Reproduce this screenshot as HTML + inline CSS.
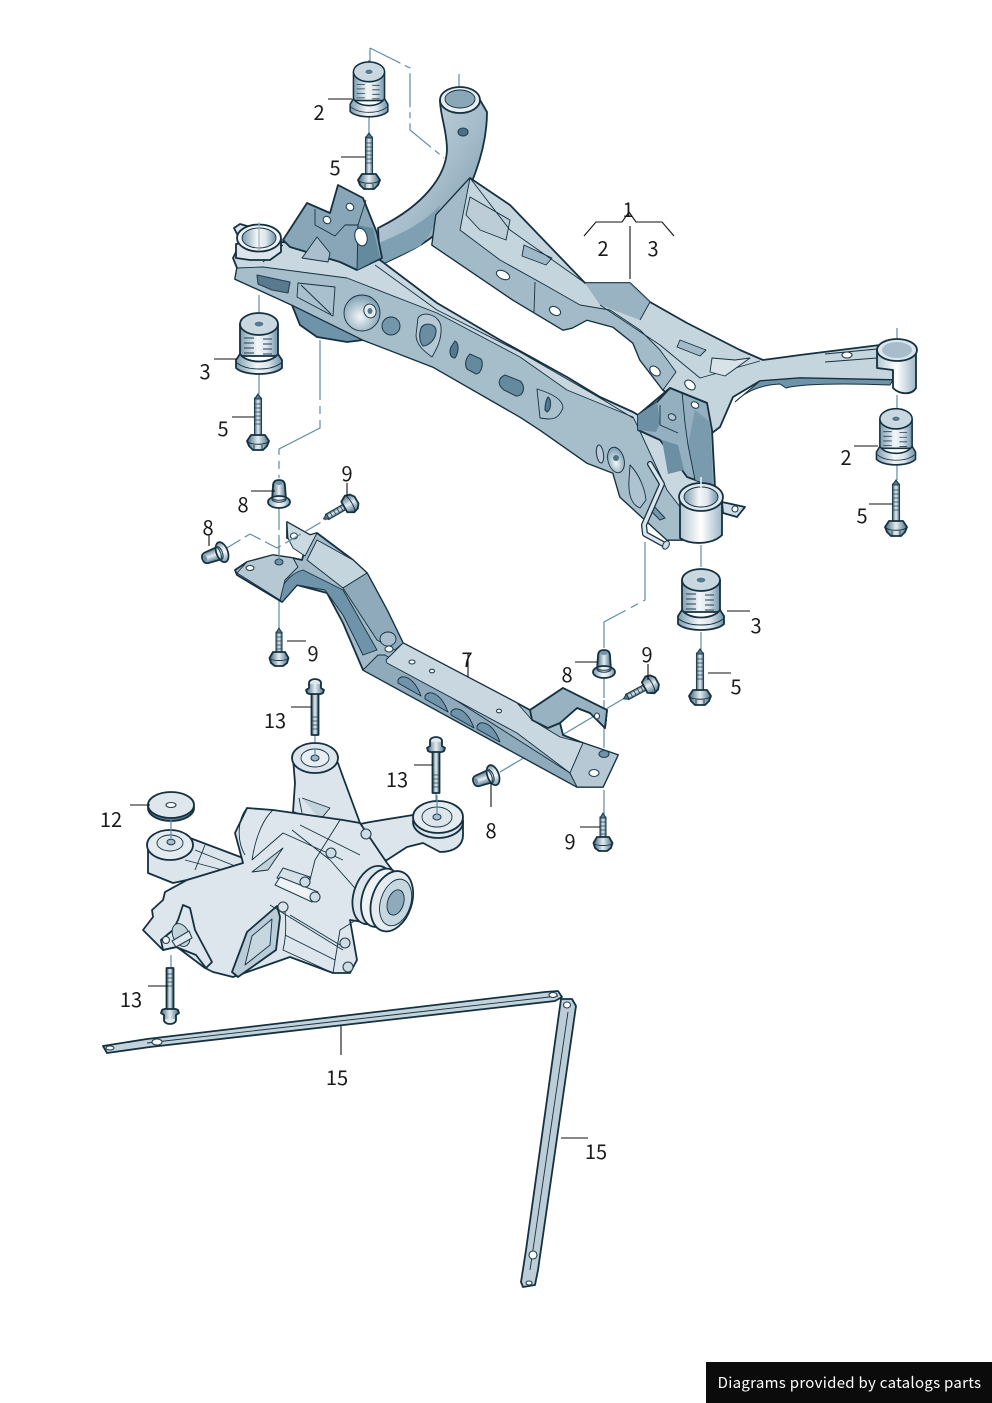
<!DOCTYPE html>
<html><head><meta charset="utf-8"><style>
html,body{margin:0;padding:0;background:#fff}
svg{display:block}
text{font-family:"Noto Sans CJK JP","Liberation Sans",sans-serif;font-size:20px;fill:#1a1a1a;text-anchor:middle}
.o{stroke:#15303f;stroke-width:1.8;stroke-linejoin:round;stroke-linecap:round}
.t{stroke:#15303f;stroke-width:.9;stroke-linejoin:round}
.d{stroke:#5f8ca5;stroke-width:1.2;fill:none}
.l{stroke:#111;stroke-width:1.1;fill:none}
.o2{stroke:#24404f;stroke-width:1.1;stroke-linejoin:round}
</style></head><body>
<svg width="992" height="1403" viewBox="0 0 992 1403" fill="none" xmlns="http://www.w3.org/2000/svg">
<defs>
<linearGradient id="cy"><stop offset="0" stop-color="#7c9cb0"/><stop offset=".45" stop-color="#f4f7f9"/><stop offset=".7" stop-color="#dce6ec"/><stop offset="1" stop-color="#6f92a7"/></linearGradient>
<linearGradient id="cw"><stop offset="0" stop-color="#b5c8d4"/><stop offset=".5" stop-color="#fff"/><stop offset="1" stop-color="#9fb7c6"/></linearGradient>
<linearGradient id="bd"><stop offset="0" stop-color="#42667b"/><stop offset=".5" stop-color="#e5edf1"/><stop offset="1" stop-color="#4b6f84"/></linearGradient>
<linearGradient id="tb" x1="0" y1="0" x2="1" y2="1"><stop offset="0" stop-color="#d3e0e7"/><stop offset=".55" stop-color="#a3bac8"/><stop offset="1" stop-color="#6f93a8"/></linearGradient>
<radialGradient id="sp" cx=".45" cy=".6" r=".6"><stop offset="0" stop-color="#f3f7f9"/><stop offset="1" stop-color="#7d9db1"/></radialGradient>
<g id="bolt"><rect x="-3.5" y="0" width="7" height="38" fill="url(#bd)" class="o2"/><path d="M0-4L3.5 1H-3.5Z" fill="#54788d" class="o2"/><path d="M-3.5 6h7M-3.5 10h7M-3.5 14h7M-3.5 18h7M-3.5 22h7M-3.5 26h7" stroke="#24404f" stroke-width=".8"/><path d="M-11 43L-7 37H7L11 43L9 48L5 52H-5L-9 48Z" fill="url(#bd)" class="o"/><path d="M-10 44C-6 47 6 47 10 44M-4 47V52M4 47V52" class="t"/></g>
<g id="b9"><rect x="-3" y="0" width="6" height="21" fill="url(#bd)" class="o2"/><path d="M0-4L3 1H-3Z" fill="#54788d" class="o2"/><path d="M-3 5h6M-3 9h6M-3 13h6M-3 17h6" stroke="#24404f" stroke-width=".8"/><path d="M-9.500 26L-6 20H6L9.500 26L8 31L4 34H-4L-8 31Z" fill="url(#bd)" class="o"/><path d="M-9 27C-5 29 5 29 9 27" class="t"/></g>
<g id="b13"><ellipse cx="0" cy="2" rx="6" ry="4" fill="#dfe8ed" class="o"/><path d="M-6 3v4l-3 2 1 3c3 2 13 2 16 0l1-3-3-2V3" fill="url(#bd)" class="o"/><rect x="-3.5" y="13" width="7" height="41" fill="url(#bd)" class="o"/><path d="M-3.5 36h7M-3.5 40h7M-3.5 44h7M-3.5 48h7" stroke="#24404f" stroke-width=".8"/></g>
<g id="b8"><path d="M-6 2C-6-3-3-4 0-4S6-3 6 2L7 16H-7Z" fill="url(#bd)" class="o"/><ellipse cx="0" cy="-1" rx="3.500" ry="2" fill="#6f93a8"/><ellipse cx="0" cy="18" rx="11" ry="6" fill="url(#cy)" class="o"/><path d="M-7 14c3 3 11 3 14 0v2c-3 3-11 3-14 0Z" fill="url(#bd)" class="o2"/></g>
<g id="bsh"><path d="M-19 2V34H19V2Z" fill="url(#cy)" class="o"/><path d="M-19 32L-23 38V46C-15 54 15 54 23 46V38L19 32C12 42-12 42-19 32Z" fill="url(#cy)" class="o"/><path d="M-22 41C-12 49 12 49 22 41" class="t"/><ellipse cx="0" cy="2" rx="19" ry="11" fill="#c9d8e0" class="o"/><ellipse cx="0" cy="2" rx="5" ry="3" fill="#567b91" stroke="#dde7ec"/><path d="M-15 16h10M-15 21h10M-15 26h10M-15 31h10M4 17h9M4 22h9M4 27h9M4 32h9" stroke="#24404f" stroke-width=".9"/></g>
</defs>
<rect width="992" height="1403" fill="#fff"/>

<!-- dashed / assembly lines -->
<path class="d" stroke-dasharray="34 5 6 5" d="M370 48V62M370 48L410 68V130L444 158"/>
<path class="d" d="M369 112V134M459 74V100M259 295V314M259 372V394M897 328V350M897 395V408M897 462V480M701 545V567M701 632V650M369 60V78"/>
<path class="d" stroke-dasharray="60 6 8 6" d="M320 340V428L279 449V478"/>
<path class="d" stroke-dasharray="24 5 6 5" d="M279 506V560"/>
<path class="d" d="M279 600V630M604 790V815M604 700V748"/>
<path class="d" stroke-dasharray="60 6 8 6" d="M645 542V600L604 622V648"/>
<path class="d" d="M604 678V698M500 772L628 696M315 735V750M436 793V812M171 830V846M171 955V968"/>

<!-- far tube -->
<path class="o" fill="url(#tb)" d="M440 100C440 115 447 130 447 150C446 175 425 205 378 228L380 265C420 247 432 240 450 220C470 195 487 150 487 112L480 100Z"/>
<path fill="#7f9fb3" d="M379 243C405 232 425 222 440 205C436 222 432 235 420 246L380 265Z"/>
<ellipse cx="460" cy="100" rx="20" ry="13" fill="#e8eff3" class="o"/><ellipse cx="460" cy="99" rx="15" ry="9" fill="#8aa7b8" class="t"/>
<ellipse cx="463" cy="132" rx="5" ry="4" fill="#4d7287" class="o2"/>

<!-- far rail + right arm -->
<path class="o" fill="#c5d5de" d="M470 178L510 205L585 283L630 283L650 302L687 323L740 350L763 360L800 355L880 345L893 368L893 380L800 378L760 381L733 397L720 427L712 433L663 390L640 360L633 343L613 327L587 320L572 328L563 330L513 300L432 245L436 215Z"/>
<path fill="#a3bac8" class="t" d="M470 178L436 215L432 245L513 300L563 330L572 328L587 320L613 327L633 343L640 360L663 390L676 372L660 350L640 330L610 310L580 305L545 285L500 260L460 230Z"/>
<path fill="#8eaabb" d="M585 283L630 283L650 302L640 320L600 305Z" opacity=".8"/>
<path class="t" d="M470 197L510 220L506 240L480 230L466 215Z" fill="#bccdd7"/>
<path class="t" d="M524 245L552 258L546 265L522 256Z" fill="#9fb7c6"/>
<path class="t" d="M470 178L510 230L585 283M600 305L660 345L700 378L760 361M535 282L534 312M650 302L640 320"/>
<path class="t" fill="#a3bac8" d="M680 340L706 350L700 356L677 347Z"/>
<path class="t" fill="#d8e3e9" d="M712 358L735 360L750 358L725 376L710 372Z"/>
<ellipse cx="503" cy="275" rx="7" ry="4" fill="#fff" class="o2" transform="rotate(25 503 275)"/>
<ellipse cx="555" cy="311" rx="6" ry="4" fill="#fff" class="o2" transform="rotate(30 555 311)"/>
<ellipse cx="655" cy="371" rx="6" ry="4" fill="#fff" class="o2" transform="rotate(40 655 371)"/>
<ellipse cx="690" cy="385" rx="6" ry="4" fill="#fff" class="o2" transform="rotate(40 690 385)"/>
<path fill="#6f93a8" stroke="#15303f" d="M760 381L800 378L893 380L890 385C840 383 800 384 786 388L780 384C760 385 745 392 735 402Z"/>
<path class="t" d="M825 354L877 349M825 362L877 358"/>
<ellipse cx="847" cy="355" rx="5" ry="3" fill="#fff" class="o2"/>
<!-- right cup -->
<path class="o" fill="url(#cw)" d="M877 350V368L893 370V388C900 395 912 395 916 388V350Z"/>
<ellipse cx="897" cy="350" rx="20" ry="11" fill="#dbe5eb" class="o"/>
<ellipse cx="897" cy="350" rx="15" ry="8" fill="#a7bdcb"/>

<!-- front rail -->
<path class="o" fill="#6f93a8" d="M292 305L300 325L317 337L347 342L363 340L330 320Z"/>
<path class="o" fill="#c9d8e0" d="M233 258L237 268L235 279L292 305L363 340L433 367L520 417L540 430L587 463L613 473L620 497L667 540L683 540L712 487L707 403L670 388L638 415L633 412L600 397L567 377L500 340L437 303L380 260L283 242L238 248Z"/>
<path class="t" fill="#a6bdca" d="M237 268L263 267L347 278L437 313L520 357L567 390L633 417L638 427L667 490L680 507L683 540L667 540L620 497L613 473L587 463L540 430L520 417L433 367L363 340L292 305L235 279Z"/>
<path class="t" d="M283 245L263 262M375 265L437 310L520 352L600 398L633 418"/>
<path fill="#59798e" class="o2" d="M257 275L290 282L288 293L272 290L258 284Z"/>
<path fill="#a9c0cd" class="t" d="M298 283L335 287L333 316L297 297Z"/><path class="t" d="M301 285L331 314"/>
<circle cx="362" cy="313" r="18" fill="url(#sp)" class="t"/>
<ellipse cx="370" cy="311" rx="6" ry="7" fill="#e6edf1" class="t" transform="rotate(-20 370 311)"/><ellipse cx="370" cy="311" rx="2.500" ry="3" fill="#54788d"/>
<circle cx="391" cy="326" r="9" fill="#7496aa" class="t"/>
<path fill="#b5c8d4" class="t" d="M418 318C423 310 440 315 441 327C442 340 436 350 432 357C425 352 416 345 416 335Z"/>
<path fill="#6a8da2" class="o2" d="M421 328C424 322 436 323 436 331C436 340 428 346 423 346C419 342 419 334 421 328Z"/>
<path fill="#54788d" class="o2" d="M455 341C459 343 459 352 455 358C450 358 449 352 451 347Z"/>
<path fill="#648a9e" class="o2" d="M470 354L481 359C484 364 481 374 476 374L467 369C464 364 466 358 470 354Z"/>
<path fill="#648a9e" class="o2" d="M505 375L520 381C526 385 524 397 516 396L504 390C497 385 498 378 505 375Z"/>
<path fill="#a9c0cd" class="t" d="M537 389C547 392 563 398 563 408C558 420 552 420 540 418Z"/>
<path fill="#54788d" class="o2" d="M548 397C552 400 551 410 547 412L545 410C545 405 546 400 548 397Z"/>
<ellipse cx="600" cy="454" rx="3.500" ry="9" fill="#bccdd7" class="o2" transform="rotate(-8 600 454)"/>
<ellipse cx="616" cy="460" rx="8" ry="13" fill="url(#sp)" class="t" transform="rotate(-15 616 460)"/>
<circle cx="616" cy="458" r="3" fill="#4d7287"/>
<path fill="#aec3cf" class="t" d="M630 465C640 475 645 490 646 500L640 508C632 505 628 495 629 480Z"/>
<path fill="#7496aa" class="o2" d="M653 505L665 518L660 520L652 512Z"/>

<!-- left cup -->
<path class="o" fill="#dce6ec" d="M236 244V258L250 260H270L281 252V238Z"/>
<path class="o" fill="#dbe5eb" d="M234 228L240 224 247 226 258 226V236L240 240Z"/>
<ellipse cx="259" cy="238" rx="22" ry="13.500" fill="#f0f4f6" class="o"/>
<ellipse cx="259" cy="238" rx="17" ry="10" fill="url(#cy)" class="t"/>
<path stroke="#9fb7c6" stroke-width="1.200" d="M259 222V250"/>

<!-- left bracket -->
<path class="o" fill="#88a6b8" d="M283 240L307 203L330 213L338 185L363 198L377 233L382 258L357 270L340 262L290 247Z"/>
<path fill="#648a9e" d="M357 225L373 228L380 258L357 270Z"/>
<path class="t" d="M315 209V225L335 236L345 225L358 225L366 200M358 225L357 270"/>
<path class="t" fill="#a9bfcd" d="M317 237L330 253L328 262L302 258Z"/>
<ellipse cx="327" cy="220" rx="4" ry="3.500" fill="#fff" class="o2" transform="rotate(40 327 220)"/>
<ellipse cx="350" cy="207" rx="4" ry="3.500" fill="#fff" class="o2" transform="rotate(40 350 207)"/>
<ellipse cx="361" cy="237" rx="6" ry="9" fill="#fff" class="o2" transform="rotate(-15 361 237)"/>

<!-- right bracket -->
<path class="o" fill="#94afbf" d="M638 415L657 402L670 388L707 403L712 430L715 487L687 477L660 440L638 430Z"/>
<path fill="#6c8fa4" d="M638 415L657 402L660 423L656 432L638 430Z"/>
<path fill="#6c8fa4" d="M662 440L678 445L684 470L668 474Z"/>
<path fill="#7a9bae" d="M695 410L710 422L713 486L695 480L688 445Z"/>
<path class="t" d="M682 392L685 423L688 445L695 480M660 405V425L678 433"/>
<ellipse cx="672" cy="417" rx="4" ry="3" fill="#b5c8d4" class="o2" transform="rotate(30 672 417)"/>
<ellipse cx="695" cy="405" rx="4" ry="3" fill="#fff" class="o2" transform="rotate(30 695 405)"/>

<!-- collar -->
<path class="o" fill="#cfdce4" d="M722 502L745 507L737 517L723 513Z"/><circle cx="735" cy="509" r="3" fill="#fff" class="o2"/>
<path class="o" fill="url(#cw)" d="M680 497V520L680 538C690 545 712 545 722 535V497Z"/>
<ellipse cx="701" cy="497" rx="22" ry="14" fill="#dde7ec" class="o"/>
<ellipse cx="701" cy="497" rx="17" ry="10" fill="url(#cy)" class="t"/>
<path stroke="#eef3f6" stroke-width="1.500" d="M701 477V500"/>

<!-- rod -->
<path stroke="#15303f" stroke-width="6" stroke-linecap="round" stroke-linejoin="round" d="M650 464L662 484L644 525L645 534L665 545"/>
<path stroke="#dbe5eb" stroke-width="3.500" stroke-linecap="round" stroke-linejoin="round" d="M650 464L662 484L644 525L645 534L665 545"/>
<ellipse cx="666" cy="545" rx="3" ry="4.500" fill="#cfdce4" class="o2" transform="rotate(30 666 545)"/>

<!-- bushings and bolts top -->
<use href="#bsh" x="369" y="70" transform="translate(369 70) scale(.82 .9) translate(-369 -70)"/>
<use href="#bsh" x="259" y="322"/>
<use href="#bsh" x="896" y="417" transform="translate(896 417) scale(.85 .92) translate(-896 -417)"/>
<use href="#bsh" x="701" y="578"/>
<use href="#bolt" x="369" y="137"/>
<use href="#bolt" x="258" y="398"/>
<use href="#bolt" x="896" y="484"/>
<use href="#bolt" x="700" y="653"/>

<!-- subframe 7 -->
<path class="o" fill="#a3bac8" d="M235 570L247 562L273 555L293 558L302 560L306 545L287 538L287 522L310 535L317 533L353 560L367 573L387 610L403 643L517 703L530 710L563 688L607 710L605 728L590 713L577 708L560 723L563 735L583 743L618 755L603 787L577 787L363 670L343 623L327 593L297 585L282 602L237 575Z"/>
<path fill="#c5d5de" class="t" d="M307 560L317 540L353 560L367 573L343 588Z"/>
<path fill="#8eaabb" class="t" d="M343 588L367 573L387 610L403 643L395 650L377 640Z"/>
<path fill="#6f93a8" class="t" d="M303 570L343 590L377 650L363 655L343 615L325 590L297 585L282 602L278 598C282 580 295 572 303 570Z"/>
<path fill="#b5c8d4" class="t" d="M237 573L247 562L273 555L293 558L298 567L285 580L280 600Z"/>
<path fill="#cbd9e1" class="t" d="M287 522L310 535L317 533L305 556L293 548L288 538Z"/>
<path fill="#8eaabb" class="t" d="M385 655L378 655L363 670L577 787L570 773Z"/>
<path fill="#c9d8e0" class="t" d="M386 660L403 643L517 703L532 720L560 737L583 743L570 773L517 733L387 663Z"/>
<path class="t" fill="#6f93a8" d="M398 680C402 673 414 677 421 696L398 683Z"/>
<path class="t" fill="#6f93a8" d="M425 696C429 689 441 693 448 712L425 699Z"/>
<path class="t" fill="#6f93a8" d="M451 712C455 705 467 709 474 728L451 715Z"/>
<path class="t" fill="#6f93a8" d="M477 726C481 719 493 723 500 742L477 729Z"/>
<ellipse cx="388" cy="639" rx="8" ry="7" fill="#a9bfcd" class="t"/><ellipse cx="389" cy="649" rx="4" ry="3" fill="#fff" class="o2"/>
<ellipse cx="412" cy="662" rx="3" ry="2" fill="#fff" class="o2"/><ellipse cx="432" cy="671" rx="2.500" ry="1.800" fill="#fff" class="o2"/><ellipse cx="499" cy="711" rx="2.500" ry="1.800" fill="#fff" class="o2"/>
<path class="o" fill="#98b2c1" d="M530 710L563 688L607 710L605 728L590 713L577 708L560 723L548 728L532 720Z"/>
<path fill="#b5c8d4" class="t" d="M583 743L618 755L603 787L577 787L570 773Z"/>
<ellipse cx="604" cy="754" rx="5" ry="3.500" fill="#6f93a8" class="o2"/><ellipse cx="594" cy="773" rx="5" ry="3.500" fill="#fff" class="o2"/>
<ellipse cx="279" cy="562" rx="4" ry="3" fill="#6f93a8" class="o2"/><ellipse cx="250" cy="568" rx="4" ry="2.500" fill="#fff" class="o2"/><ellipse cx="294" cy="536" rx="3.500" ry="3" fill="#fff" class="o2"/>
<ellipse cx="597" cy="716" rx="2.500" ry="3" fill="#fff" class="o2"/>
<path class="d" stroke-dasharray="18 5" d="M225 549L250 534L277 548L330 517"/>
<path class="d" d="M279 540V560"/>

<!-- part 8s, 9s -->
<use href="#b8" x="279" y="484"/>
<use href="#b8" x="604" y="654"/>
<use href="#b8" transform="translate(206 558) rotate(-110) scale(.95)"/>
<use href="#b8" transform="translate(477 781) rotate(-110) scale(.95)"/>
<use href="#b9" x="279" y="632"/>
<use href="#b9" x="603" y="817"/>
<use href="#b9" transform="translate(327 517) rotate(-120)"/>
<use href="#b9" transform="translate(627 697) rotate(-118)"/>

<!-- rear mount & transmission -->
<path class="o" fill="#dbe5eb" d="M293 758L295 783L293 812L330 825L360 823L343 777L338 763Z"/>
<path class="t" d="M299 798L302 813M302 798L330 808L320 820" fill="#c3d3dc"/>
<ellipse cx="315" cy="758" rx="23" ry="15" fill="#dbe5eb" class="o"/><ellipse cx="315" cy="758" rx="14" ry="9" fill="#e8eff3" class="t"/><ellipse cx="315" cy="758" rx="4" ry="3" fill="#9fb7c6" class="o2"/>
<path class="o" fill="#dbe5eb" d="M413 815L370 822L355 825L373 860L387 860L407 847L423 843L440 852C455 852 463 845 463 835V820Z"/>
<ellipse cx="438" cy="822" rx="25" ry="16" fill="#dbe5eb" class="o"/><ellipse cx="438" cy="817" rx="25" ry="16" fill="#e4ecf0" class="o"/><ellipse cx="437" cy="817" rx="15" ry="10" fill="#dbe5eb" class="t"/><ellipse cx="437" cy="817" rx="4" ry="3" fill="#a9bfcd" class="o2"/>
<path class="o" fill="#dbe5eb" d="M148 848V873L173 883L187 880L243 865V858L190 838L170 840Z"/>
<path class="t" d="M185 860L230 872M195 850L240 868M205 845L195 870"/>
<ellipse cx="170" cy="845" rx="23" ry="15" fill="#e4ecf0" class="o"/><ellipse cx="170" cy="843" rx="13" ry="8" fill="#dde7ec" class="t"/><ellipse cx="171" cy="842" rx="4" ry="2.800" fill="#a9bfcd" class="o2"/>
<ellipse cx="171" cy="808" rx="23" ry="13" fill="#5f7f93" class="o"/><ellipse cx="171" cy="805" rx="23" ry="13" fill="#dde7ec" class="o"/><ellipse cx="171" cy="805" rx="5" ry="2.500" fill="#fff" class="o2"/>
<path class="d" d="M171 819V838M315 750V756M437 795V815"/>

<path class="o" fill="#dce6ec" d="M243 863L235 833L247 808L273 810L343 820L360 823L387 863L400 880L412 900L390 930L370 923L350 920L357 960L350 973L333 973L290 957L233 977L213 972L205 968L177 947L163 950L143 930L153 917L152 910L163 900L165 892L187 880Z"/>
<path class="t" d="M247 808C238 818 236 840 245 855M273 810C262 820 255 840 252 860"/>
<path class="t" d="M252 860L283 833L343 860M292 830L330 860L370 905M300 825L360 855M340 820L315 860L310 880"/>
<path class="t" fill="#c0d1db" d="M252 872L283 848L268 870Z"/>
<path class="o2" fill="#d6e1e7" d="M277 878L283 868L310 877L302 887Z"/>
<path class="o2" fill="#eef3f6" d="M275 885L280 877L318 892L312 902Z"/>
<circle cx="315" cy="897" r="5" fill="#cfdce4" class="o2"/>
<circle cx="305" cy="882" r="5" fill="#cfdce4" class="o2"/><circle cx="331" cy="853" r="5" fill="#cfdce4" class="o2"/><circle cx="366" cy="834" r="5" fill="#cfdce4" class="o2"/>
<path class="o" fill="#b9ccd7" d="M247 932L277 906L280 917L276 950L238 977L232 972Z"/>
<path class="t" fill="#c7d7e0" d="M252 936L272 919L270 945L245 965Z"/>
<path class="t" d="M283 903C285 907 288 930 283 950L333 973M290 915L340 945M285 935L335 960M356 920L340 930L333 973M270 905L343 950"/>
<circle cx="283" cy="907" r="5" fill="#dbe5eb" class="o2"/>
<circle cx="345" cy="943" r="5" fill="#cfdce4" class="o2"/><circle cx="348" cy="967" r="5" fill="#cfdce4" class="o2"/>
<g transform="rotate(18 388 900)">
<ellipse cx="372" cy="900" rx="19" ry="30" fill="#dbe5eb" class="o"/>
<ellipse cx="381" cy="900" rx="19" ry="30" fill="#eef3f6" class="o"/>
<ellipse cx="392" cy="900" rx="20" ry="31" fill="#e4ecf0" class="o"/>
<ellipse cx="396" cy="900" rx="15" ry="24" fill="#c7d7e0" class="t"/>
<ellipse cx="396" cy="900" rx="8" ry="13" fill="#8eaabb" class="t"/>
</g>
<path class="o" fill="#dce6ec" d="M183 905L190 908L195 930L212 962L206 968L196 955L176 947L163 950L161 940L173 930L178 920Z"/>
<ellipse cx="181" cy="935" rx="8" ry="12" fill="#c3d3dc" class="t" transform="rotate(-25 181 935)"/>
<path class="o2" fill="#dfe8ed" d="M172 941L189 931L192 938L176 947Z"/>
<circle cx="166" cy="940" r="3.500" fill="#eef3f6" class="o2"/>

<use href="#b13" x="315" y="681"/>
<use href="#b13" x="436" y="739"/>
<use href="#b13" transform="translate(170 1022) rotate(180)"/>

<!-- straps -->
<path class="o" fill="#c3d3dc" d="M103 1046L147 1039L545 992L558 991L562 997L555 1001L150 1047L107 1053Z"/>
<path class="t" d="M147 1043L558 996"/>
<ellipse cx="157" cy="1042" rx="5" ry="3" fill="#fff" class="o2"/><ellipse cx="110" cy="1048" rx="4" ry="2" fill="#fff" class="o2"/><ellipse cx="553" cy="995" rx="4" ry="2.500" fill="#fff" class="o2"/>
<path class="o" fill="#bccdd7" d="M561 999L572 999L576 1006L538 1270L535 1285L523 1287L521 1282L526 1250Z"/>
<path class="t" d="M568 1012L530 1270"/>
<ellipse cx="567" cy="1005" rx="3.500" ry="3" fill="#fff" class="o2"/><ellipse cx="533" cy="1255" rx="4" ry="4" fill="#fff" class="o2"/><ellipse cx="529" cy="1283" rx="3" ry="2" fill="#fff" class="o2"/>

<!-- leaders -->
<path class="l" d="M328 99H352M341 157H366M584 236L596 222H622L629 212L636 222H662L674 236M630 226V279M214 359H237M232 417H255M251 491H275M347 483V496M209 535V546M287 641H306M468 653V677M575 662H598M648 664V680M708 673H731M727 611H750M854 446H878M869 504H893M291 707H312M414 765H433M130 805H150M491 783V807M580 827H600M148 986H168M341 1026V1055M561 1138H588"/>

<!-- labels -->
<text x="319" y="120">2</text><text x="335" y="175">5</text><text x="628" y="217">1</text><text x="603" y="256">2</text><text x="653" y="256">3</text>
<text x="205" y="379">3</text><text x="223" y="436">5</text><text x="243" y="512">8</text><text x="347" y="481">9</text><text x="208" y="535">8</text>
<text x="313" y="661">9</text><text x="467" y="667">7</text><text x="567" y="682">8</text><text x="647" y="662">9</text><text x="736" y="694">5</text><text x="756" y="633">3</text>
<text x="846" y="465">2</text><text x="862" y="523">5</text><text x="275" y="728">13</text><text x="397" y="787">13</text><text x="111" y="827">12</text>
<text x="491" y="838">8</text><text x="570" y="849">9</text><text x="131" y="1007">13</text><text x="337" y="1085">15</text><text x="596" y="1159">15</text>

<rect x="706" y="1362" width="286" height="41" fill="#0b0b0b"/>
<text x="849.500" y="1388" style="font-size:15px;fill:#fff;letter-spacing:.29px">Diagrams provided by catalogs parts</text>
</svg>
</body></html>
